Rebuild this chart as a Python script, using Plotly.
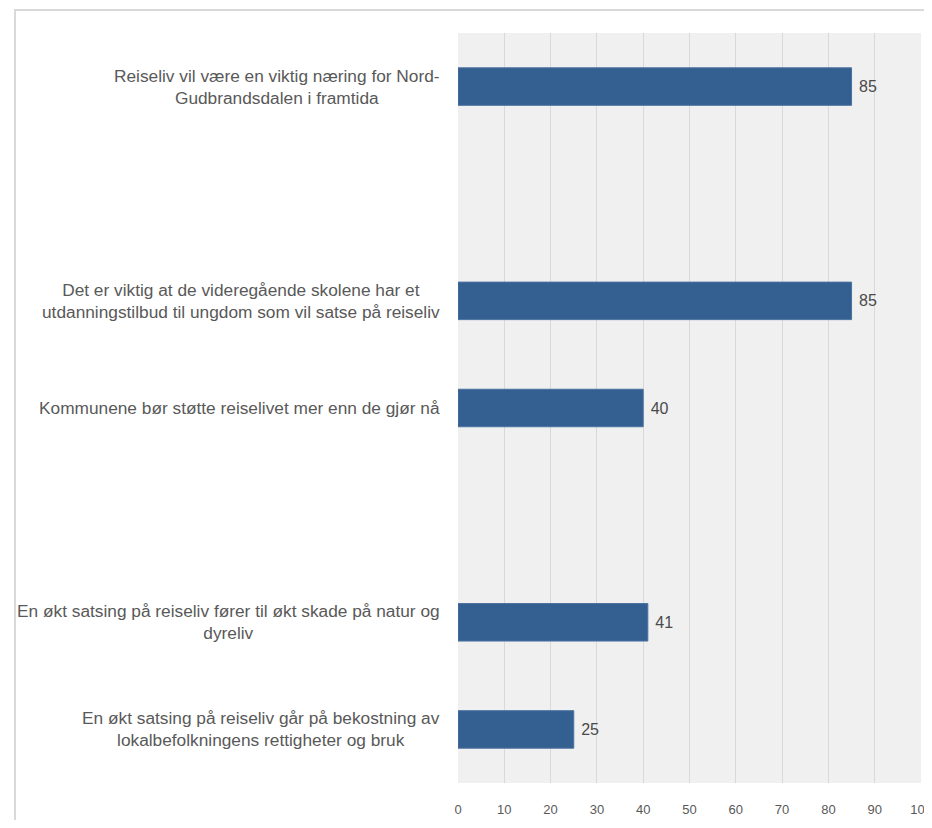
import plotly.graph_objects as go

categories = [
    "Reiseliv vil være en viktig næring for Nord-<br>Gudbrandsdalen i framtida",
    " ",
    "Det er viktig at de videregående skolene har et<br>utdanningstilbud til ungdom som vil satse på reiseliv",
    "Kommunene bør støtte reiselivet mer enn de gjør nå",
    "  ",
    "En økt satsing på reiseliv fører til økt skade på natur og<br>dyreliv",
    "En økt satsing på reiseliv går på bekostning av<br>lokalbefolkningens rettigheter og bruk",
]
values = [85, None, 85, 40, None, 41, 25]
labels = ["85", "", "85", "40", "", "41", "25"]
tick_vals = [0, 10, 20, 30, 40, 50, 60, 70, 80, 90, 100]

FONT = "Liberation Sans, Arial, sans-serif"
GREY = "#595959"

fig = go.Figure(go.Bar(
    y=categories, x=values, orientation="h",
    marker=dict(color="#345f91", line=dict(color="#4a72a0", width=1)),
    text=labels, texttemplate="\u00a0%{text}",
    textposition="outside", cliponaxis=False,
    textfont=dict(family=FONT, size=16, color="#4a4a4a"),
))

annotations = []
for c in categories:
    if c.strip():
        annotations.append(dict(
            x=-0.035, xref="paper", y=c, yref="y", text=c, showarrow=False,
            xanchor="right", yanchor="middle", align="center",
            font=dict(family=FONT, size=17.3, color=GREY),
        ))

fig.update_layout(
    width=924, height=812,
    margin=dict(l=450, r=11, t=25, b=37),
    paper_bgcolor="white", plot_bgcolor="#f0f0f0",
    bargap=0.65, showlegend=False,
    annotations=annotations,
    shapes=[dict(type="rect", xref="paper", yref="paper",
                 x0=-0.9568, x1=1.1, y0=-0.2, y1=1.0307,
                 line=dict(color="#d9d9d9", width=2), layer="below")],
    xaxis=dict(range=[0, 100], tickvals=tick_vals, showgrid=True,
               gridcolor="#d9d9d9", gridwidth=1, zeroline=False,
               showline=False, ticks="", ticklabelstandoff=17,
               automargin=False, ticklabeloverflow="allow",
               tickfont=dict(family=FONT, size=13, color=GREY)),
    yaxis=dict(categoryorder="array", categoryarray=categories,
               autorange="reversed", showticklabels=False, automargin=False,
               showgrid=False, zeroline=False, showline=False, ticks=""),
)

fig.write_html("out.html")
